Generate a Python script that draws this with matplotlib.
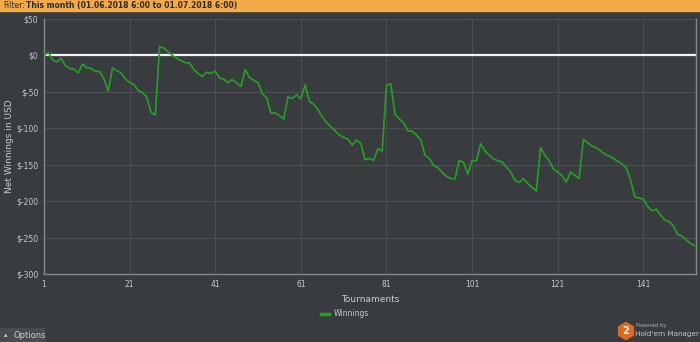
import matplotlib
matplotlib.use("Agg")
import matplotlib.pyplot as plt
from matplotlib.patches import RegularPolygon, Rectangle

# running net winnings after each tournament
tournaments = list(range(1, 154))
winnings = [
    0, 4, -6, -9, -4, -14, -18, -19, -24, -12,
    -17, -18, -22, -22, -32, -49, -17, -21, -24, -32,
    -37, -40, -48, -51, -57, -78, -82, 12, 10, 5,
    0, -4, -7, -10, -10.5, -19.5, -25, -29, -23, -25,
    -21.5, -31, -32.5, -37.5, -33, -38, -42.5, -19.5, -30.5, -34,
    -37.5, -52.5, -58, -79, -79, -82.5, -87.5, -57, -59, -54,
    -59.5, -40.5, -63, -67, -74.5, -84.5, -92, -98, -103.5, -109.5,
    -112.5, -115, -123, -116, -121, -143, -141.5, -144, -128, -131.5,
    -41, -39, -81, -87, -92.5, -103.5, -104, -109.5, -115.5, -137,
    -141.5, -151, -154, -160.5, -166, -169, -169.5, -144, -147, -163,
    -144, -145, -121, -131, -137, -142, -144.5, -146, -153, -160,
    -171, -174.5, -169, -176, -181, -186, -126.5, -137, -144.5, -156,
    -160, -165, -174, -160, -164.5, -169, -115, -120, -124.5, -126.5,
    -131, -135.5, -138, -141.5, -145, -149, -154, -171, -194, -196,
    -197, -207.5, -213, -211, -219, -226, -228, -234, -245.5, -248,
    -253, -258, -261.5,
]
x_ticks = [1, 21, 41, 61, 81, 101, 121, 141]
y_ticks = [50, 0, -50, -100, -150, -200, -250, -300]
y_labels = ["$50", "$0", "$-50", "$-100", "$-150", "$-200", "$-250", "$-300"]

bg = "#393c3f"
grid_c = "#4b4e52"
spine_c = "#85888c"
tick_c = "#c9cacc"
green = "#25a025"

fig = plt.figure(figsize=(7, 3.42), dpi=100, facecolor=bg)
ax = fig.add_axes([44 / 700, 1 - 274 / 342, 652 / 700, 255 / 342])
ax.set_facecolor(bg)

line, = ax.plot(tournaments, winnings, color=green, lw=1.2, zorder=3, label="Winnings")
ax.axhline(0, color="#f2f2f2", lw=1.6, zorder=2)

ax.set_xlim(1, 153.3)
ax.set_ylim(-300, 50)
ax.set_xticks(x_ticks)
ax.set_yticks(y_ticks)
ax.set_yticklabels(y_labels)
ax.grid(True, color=grid_c, lw=0.8)
ax.tick_params(colors=tick_c, labelsize=5.5, length=0, pad=4)
for side in ["left", "bottom", "right"]:
    ax.spines[side].set_color(spine_c)
    ax.spines[side].set_linewidth(1.0)
ax.spines["top"].set_visible(False)

ax.set_xlabel("Tournaments", color=tick_c, fontsize=6.5)
ax.xaxis.set_label_coords(0.5, -0.082)
ax.set_ylabel("Net Winnings in USD", color=tick_c, fontsize=6.5)
ax.yaxis.set_label_coords(-0.046, 0.5)

# legend under the axis title
leg = fig.legend(handles=[line], loc="center", bbox_to_anchor=(345 / 700, 1 - 314 / 342),
                 frameon=False, fontsize=5.5, handlelength=1.0, handletextpad=0.6)
for t in leg.get_texts():
    t.set_color(tick_c)
for h in leg.get_lines():
    h.set_linewidth(2.5)

# filter header
fig.patches.append(Rectangle((0, 1 - 11 / 342), 1, 11 / 342, transform=fig.transFigure,
                             color="#f3aa48", zorder=0))
narrow = ["Liberation Sans Narrow", "DejaVu Sans"]
fig.text(3 / 700, 1 - 5.5 / 342, "Filter:", fontsize=5.5, color="#2a2a2a",
         va="center", ha="left", family=narrow)
fig.text(26 / 700, 1 - 5.5 / 342, "This month (01.06.2018 6:00 to 01.07.2018 6:00)",
         fontsize=5.5, color="#2a2a2a", va="center", ha="left", fontweight="bold",
         family=narrow)

# options button
fig.patches.append(Rectangle((0, 0), 44 / 700, 14 / 342, transform=fig.transFigure,
                             color="#484b4f", zorder=0))
fig.text(4 / 700, 7 / 342, "\u25b4", fontsize=5, color=tick_c, va="center")
fig.text(14 / 700, 7 / 342, "Options", fontsize=6, color=tick_c, va="center")

# powered-by badge
logo = fig.add_axes([617 / 700, 2 / 342, 18 / 700, 18 / 342])
logo.set_xlim(-1, 1)
logo.set_ylim(-1, 1)
logo.set_aspect("equal")
logo.axis("off")
logo.add_patch(RegularPolygon((0, 0), 6, radius=0.95, color="#dc6a24"))
logo.text(0, -0.05, "2", color="white", fontsize=7, fontweight="bold",
          ha="center", va="center")
fig.text(636 / 700, 1 - 326 / 342, "Powered by", fontsize=3.8, color="#a9abad", va="center")
fig.text(635 / 700, 1 - 334 / 342, "Hold'em Manager", fontsize=5.2, color="#c4c5c7", va="center")

fig.savefig("out.png", dpi=100, facecolor=bg)
